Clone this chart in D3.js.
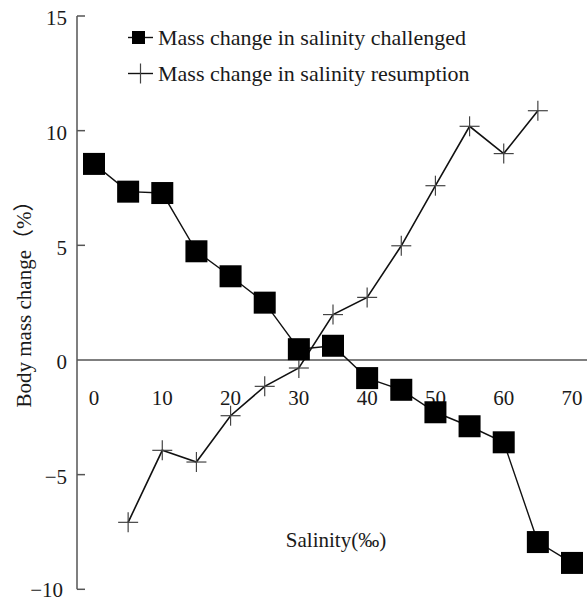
<!DOCTYPE html>
<html>
<head>
<meta charset="utf-8">
<script src="https://cdn.jsdelivr.net/npm/d3@7"></script>
<style>
  html, body { margin: 0; padding: 0; background: #fff; }
  svg { display: block; }
  text { font-family: "Liberation Serif", "Times New Roman", "Noto Sans CJK SC", serif; fill: #1a1a1a; }
</style>
</head>
<body>
<svg id="chart" width="587" height="603"></svg>
<script>
// ---- data ----
const salinity = [0, 5, 10, 15, 20, 25, 30, 35, 40, 45, 50, 55, 60, 65, 70];
const challenged = [8.55, 7.34, 7.28, 4.74, 3.65, 2.5, 0.47, 0.62, -0.79, -1.3, -2.28, -2.89, -3.59, -7.94, -8.85];
const resumptionSalinity = [5, 10, 15, 20, 25, 30, 35, 40, 45, 50, 55, 60, 65];
const resumption = [-7.08, -3.94, -4.45, -2.43, -1.15, -0.35, 1.98, 2.73, 4.98, 7.6, 10.19, 9.0, 10.87];
const xTicks = [0, 10, 20, 30, 40, 50, 60, 70];
const yTicks = [-10, -5, 0, 5, 10, 15];
const seriesNames = ["Mass change in salinity challenged", "Mass change in salinity resumption"];
const xTitle = "Salinity(‰)";
const yTitle = "Body mass change（%）";

const svg = d3.select("#chart");
const x = d3.scaleLinear().domain([0, 70]).range([94, 572]);
const y = d3.scaleLinear().domain([-10, 15]).range([589.3, 16]);
const axisX = 77;

// y axis line
svg.append("line")
  .attr("x1", axisX).attr("x2", axisX)
  .attr("y1", y(15)).attr("y2", y(-10))
  .attr("stroke", "#555").attr("stroke-width", 1.5);

// y ticks (inward)
svg.selectAll(".ytick").data(yTicks.filter(d => d !== 0)).enter().append("line")
  .attr("x1", axisX).attr("x2", axisX + 8)
  .attr("y1", d => y(d)).attr("y2", d => y(d))
  .attr("stroke", "#555").attr("stroke-width", 1.5);

svg.selectAll(".ylab").data(yTicks).enter().append("text")
  .attr("x", d => d === -10 ? 63 : 67).attr("y", d => y(d) + (d === -10 ? 0 : 2))
  .attr("dy", "0.35em")
  .attr("text-anchor", "end")
  .attr("font-size", 21)
  .text(d => d < 0 ? "\u2212" + Math.abs(d) : d);

// zero line (x axis)
svg.append("line")
  .attr("x1", axisX).attr("x2", 587)
  .attr("y1", y(0)).attr("y2", y(0))
  .attr("stroke", "#555").attr("stroke-width", 1.5);

svg.selectAll(".xlab").data(xTicks).enter().append("text")
  .attr("x", d => x(d)).attr("y", y(0) + 38)
  .attr("dy", "0.35em")
  .attr("text-anchor", "middle")
  .attr("font-size", 21)
  .text(d => d);

// axis titles
svg.append("text")
  .attr("x", 336).attr("y", 547)
  .attr("text-anchor", "middle")
  .attr("font-size", 21)
  .text(xTitle);

svg.append("text")
  .attr("transform", "translate(31,299) rotate(-90)")
  .attr("text-anchor", "middle")
  .attr("font-size", 21)
  .text(yTitle);

// lines
const line = d3.line().x(d => x(d[0])).y(d => y(d[1]));
const chData = salinity.map((s, i) => [s, challenged[i]]);
const reData = resumptionSalinity.map((s, i) => [s, resumption[i]]);

svg.append("path").datum(reData)
  .attr("d", line).attr("fill", "none")
  .attr("stroke", "#111").attr("stroke-width", 1.6);

svg.append("path").datum(chData)
  .attr("d", line).attr("fill", "none")
  .attr("stroke", "#111").attr("stroke-width", 1.4);

// cross markers
const cs = 10;
const crosses = svg.selectAll(".cross").data(reData).enter().append("g")
  .attr("transform", d => `translate(${x(d[0])},${y(d[1])})`);
crosses.append("line").attr("x1", -cs).attr("x2", cs).attr("y1", 0).attr("y2", 0)
  .attr("stroke", "#444").attr("stroke-width", 1.2);
crosses.append("line").attr("x1", 0).attr("x2", 0).attr("y1", -cs).attr("y2", cs)
  .attr("stroke", "#444").attr("stroke-width", 1.2);

// square markers
const sq = 22;
svg.selectAll(".sq").data(chData).enter().append("rect")
  .attr("x", d => x(d[0]) - sq / 2).attr("y", d => y(d[1]) - sq / 2)
  .attr("width", sq).attr("height", sq)
  .attr("fill", "#000");

// legend
const leg = [{ y: 37.5, type: "square" }, { y: 73.5, type: "cross" }];
leg.forEach((l, i) => {
  svg.append("line").attr("x1", 128).attr("x2", 153).attr("y1", l.y).attr("y2", l.y)
    .attr("stroke", "#111").attr("stroke-width", 1.4);
  if (l.type === "square") {
    svg.append("rect").attr("x", 132).attr("y", l.y - 6.5).attr("width", 13).attr("height", 13).attr("fill", "#000");
  } else {
    svg.append("line").attr("x1", 140.5).attr("x2", 140.5).attr("y1", l.y - 10).attr("y2", l.y + 10)
      .attr("stroke", "#444").attr("stroke-width", 1.2);
  }
  svg.append("text").attr("x", 158).attr("y", l.y + 7)
    .attr("font-size", 22).text(seriesNames[i]);
});
</script>
</body>
</html>
